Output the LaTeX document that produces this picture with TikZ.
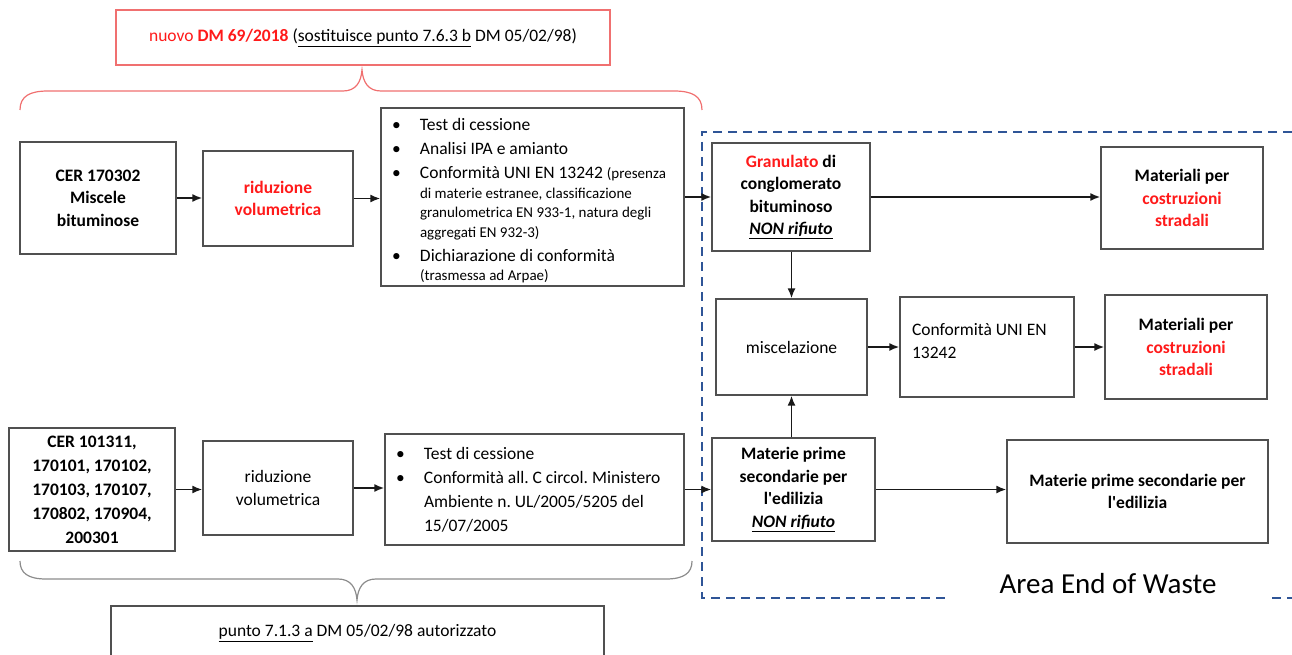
\documentclass[tikz,border=0pt]{standalone}
\usepackage{fontspec}
\setmainfont{Carlito}
\usetikzlibrary{arrows.meta}
\definecolor{boxgray}{HTML}{505050}
\definecolor{txtred}{HTML}{FF1A1A}
\definecolor{bracered}{HTML}{F07070}
\definecolor{bracegray}{HTML}{8C8C8C}
\definecolor{areablue}{HTML}{2F5597}
\newcommand{\mainfont}{\fontsize{17.5}{22.5}\selectfont}
\newcommand{\listfont}{\fontsize{17.5}{24}\selectfont}
\newcommand{\notefont}{\fontsize{15}{19.5}\selectfont}
\newcommand{\titem}{\noindent\makebox[28pt][l]{\textbullet}}
\newcommand{\shiftbox}[3]{\raisebox{#1}[\height][\depth]{\parbox{#2}{\raggedright #3}}}

\begin{document}
\frenchspacing
\begin{tikzpicture}[x=1pt, y=-1pt,
  box/.style={draw=boxgray, line width=1.3pt, inner sep=2pt, align=center, font=\mainfont},
  flow/.style={line width=1.7pt, draw=black!90, -{Latex[length=10pt,width=8pt]}}]

  \useasboundingbox (0,0) rectangle (1292,655);

  % upper line: CER 170302
  \node[box, minimum width=156pt, minimum height=112pt, font=\mainfont\bfseries] (cer1) at (98,198) {CER 170302\\Miscele\\bituminose};
  \node[box, minimum width=150pt, minimum height=95pt, font=\mainfont\bfseries, text=txtred] (rid1) at (278,198.5) {riduzione\\volumetrica};
  \node[box, minimum width=303pt, minimum height=178pt, font=\listfont] (test1) at (532.5,197) {\shiftbox{-4pt}{281pt}{%
    \titem Test di cessione\par
    \titem Analisi IPA e amianto\par
    \titem \mbox{Conformità UNI EN 13242 {\notefont(presenza}}\par
    {\notefont\noindent\leftskip=28pt di materie estranee, classificazione\par
    \noindent granulometrica EN 933-1, natura degli\par
    \noindent aggregati EN 932-3)\par}
    \titem Dichiarazione di conformità\par
    {\notefont\noindent\leftskip=28pt (trasmessa ad Arpae)\par}}};

  % lower line: CER 101311 ...
  \node[box, minimum width=166pt, minimum height=123pt, font=\fontsize{17.5}{24}\selectfont\bfseries] (cer2) at (92,489.5) {CER 101311,\\170101, 170102,\\170103, 170107,\\170802, 170904,\\200301};
  \node[box, minimum width=150pt, minimum height=94pt] (rid2) at (278,488) {riduzione\\volumetrica};
  \node[box, minimum width=299pt, minimum height=111pt, font=\listfont] (test2) at (534.5,489.5) {\shiftbox{0pt}{277pt}{%
    \titem Test di cessione\par
    \titem Conformità all. C circol. Ministero\par
    {\noindent\leftskip=28pt Ambiente n. UL/2005/5205 del\par
    \noindent 15/07/2005\par}}};

  % area end of waste
  \node[box, minimum width=158pt, minimum height=108pt, font=\mainfont\bfseries] (gran) at (791,197) {\textcolor{txtred}{Granulato} di\\conglomerato\\bituminoso\\\underline{\textit{NON rifiuto}}};
  \node[box, minimum width=162pt, minimum height=102pt, font=\mainfont\bfseries] (mat1) at (1182,198) {Materiali per\\\textcolor{txtred}{costruzioni}\\\textcolor{txtred}{stradali}};
  \node[box, minimum width=151pt, minimum height=96pt] (misc) at (791.5,347) {miscelazione};
  \node[box, minimum width=174pt, minimum height=100pt] (conf) at (987,347) {\shiftbox{6pt}{150pt}{Conformità UNI EN\\13242}};
  \node[box, minimum width=162pt, minimum height=104pt, font=\mainfont\bfseries] (mat2) at (1186,347) {Materiali per\\\textcolor{txtred}{costruzioni}\\\textcolor{txtred}{stradali}};
  \node[box, minimum width=163pt, minimum height=103pt, font=\mainfont\bfseries] (mps1) at (793.5,489.5) {Materie prime\\secondarie per\\l\textquotesingle edilizia\\\underline{\textit{NON rifiuto}}};
  \node[box, minimum width=261pt, minimum height=103pt, font=\mainfont\bfseries] (mps2) at (1137.5,491.5) {Materie prime secondarie per\\l\textquotesingle edilizia};

  % norms above and below
  \node[draw=bracered, line width=1.2pt, minimum width=494pt, minimum height=55pt, font=\mainfont] (dmnew) at (363,37.5) {\textcolor{txtred}{nuovo \textbf{DM 69/2018}} (\underline{sostituisce punto 7.6.3 b} DM 05/02/98)};
  \node[box, minimum width=493pt, minimum height=54pt] (dmold) at (357.5,633) {\underline{punto 7.1.3 a} DM 05/02/98 autorizzato};
  \node[font=\fontsize{29}{34}\selectfont] (area) at (1108,584) {Area End of Waste};

  % braces
  \draw[bracered, line width=1.2pt] (20,110) .. controls (20,96) and (30,91) .. (48,91) -- (343,91) .. controls (356,91) and (361,82) .. (362,70) .. controls (363,82) and (368,91) .. (381,91) -- (674,91) .. controls (692,91) and (702,96) .. (702,110); % DM 69/2018
  \draw[bracegray, line width=1.2pt] (20,561) .. controls (20,573) and (28,579) .. (46,579) -- (338,579) .. controls (351,579) and (356,588) .. (357,600) .. controls (358,588) and (363,579) .. (376,579) -- (666,579) .. controls (684,579) and (692,573) .. (692,561); % DM 05/02/98

  % dashed frame
  \draw[areablue, line width=2pt, dash pattern=on 9pt off 6pt] (1292,132) -- (702,132) -- (702,598) -- (948,598);
  \draw[areablue, line width=2pt, dash pattern=on 9pt off 6pt] (1272,598) -- (1292,598);

  % flow
  \draw[flow] (cer1.east) -- (rid1.west |- cer1.east);
  \draw[flow] (rid1.east) -- (test1.west |- rid1.east);
  \draw[flow] (test1.east) -- (gran.west |- test1.east);
  \draw[flow] (gran.east) -- (mat1.west |- gran.east);
  \draw[flow] (misc.north |- gran.south) -- (misc.north);
  \draw[flow] (misc.south |- mps1.north) -- (misc.south);
  \draw[flow] (misc.east) -- (conf.west |- misc.east);
  \draw[flow] (conf.east) -- (mat2.west |- conf.east);
  \draw[flow] (cer2.east) -- (rid2.west |- cer2.east);
  \draw[flow] (rid2.east) -- (test2.west |- rid2.east);
  \draw[flow] (test2.east) -- (mps1.west |- test2.east);
  \draw[flow] (mps1.east) -- (mps2.west |- mps1.east);

\end{tikzpicture}
\end{document}
